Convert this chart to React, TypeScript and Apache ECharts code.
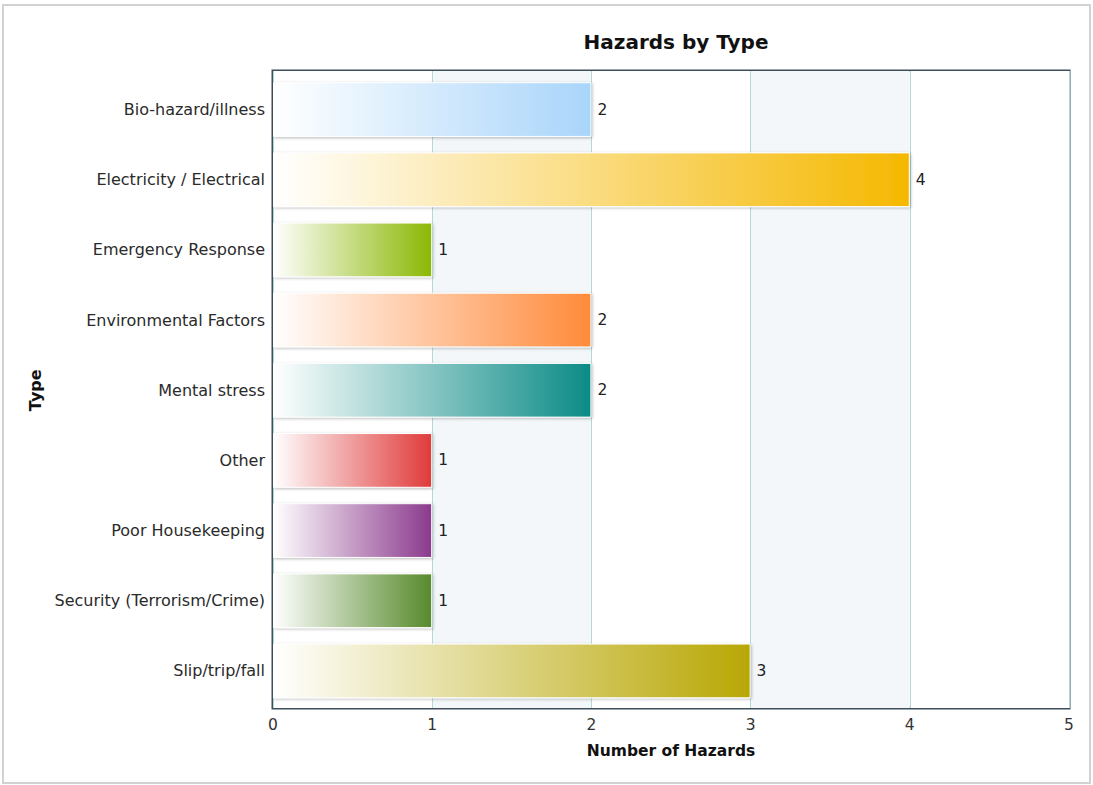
import React, { useEffect, useRef } from "react";
import * as echarts from "echarts";

// Hazard categories, top to bottom
const categories: string[] = [
  "Bio-hazard/illness",
  "Electricity / Electrical",
  "Emergency Response",
  "Environmental Factors",
  "Mental stress",
  "Other",
  "Poor Housekeeping",
  "Security (Terrorism/Crime)",
  "Slip/trip/fall",
];

// Number of hazards recorded per category
const hazardCounts: number[] = [2, 4, 1, 2, 2, 1, 1, 1, 3];

// Solid end colour of each bar's gradient
const barColors: string[] = [
  "#a9d5fa",
  "#f5b800",
  "#8bb804",
  "#ff8a3a",
  "#0b8b86",
  "#e03a3a",
  "#8b3a8d",
  "#578a2c",
  "#b8a704",
];

const xTicks = { min: 0, max: 5, interval: 1 };

const FONT = "DejaVu Sans, Verdana, sans-serif";

export default function App() {
  const ref = useRef<HTMLDivElement>(null);

  useEffect(() => {
    if (!ref.current) return;
    const chart = echarts.init(ref.current, undefined, { renderer: "svg" });

    const data = hazardCounts.map((v, i) => ({
      value: v,
      itemStyle: {
        color: new echarts.graphic.LinearGradient(0, 0, 1, 0, [
          { offset: 0, color: "#ffffff" },
          { offset: 1, color: barColors[i] },
        ]),
      },
    }));

    chart.setOption({
      animation: false,
      backgroundColor: "#ffffff",
      textStyle: { fontFamily: FONT },
      title: {
        text: "Hazards by Type",
        left: 671,
        top: 27,
        textAlign: "center",
        textStyle: {
          fontFamily: FONT,
          fontSize: 20,
          fontWeight: "bold",
          color: "#111111",
        },
      },
      graphic: [
        {
          type: "rect",
          silent: true,
          shape: { x: 3, y: 5, width: 1087, height: 778 },
          style: { fill: "none", stroke: "#d2d2d2", lineWidth: 2 },
        },
      ],
      // grid 0: framed plot area with the value scale; grid 1: the bars, slightly inset vertically
      grid: [
        {
          left: 273,
          top: 71,
          width: 796,
          height: 637,
          show: true,
          borderColor: "#3d4f5b",
          borderWidth: 3,
          backgroundColor: "transparent",
        },
        {
          left: 273,
          top: 74.5,
          width: 796,
          height: 631.5,
          show: false,
        },
      ],
      xAxis: [
        {
          type: "value",
          gridIndex: 0,
          min: xTicks.min,
          max: xTicks.max,
          interval: xTicks.interval,
          name: "Number of Hazards",
          nameLocation: "middle",
          nameGap: 35,
          nameTextStyle: {
            fontFamily: FONT,
            fontSize: 15.5,
            fontWeight: "bold",
            color: "#111111",
          },
          axisLine: { show: false },
          axisTick: { show: false },
          axisLabel: {
            margin: 9,
            fontFamily: FONT,
            fontSize: 15.5,
            color: "#333333",
          },
          splitLine: { show: true, lineStyle: { color: "#b3dad8", width: 1 } },
          splitArea: {
            show: true,
            areaStyle: { color: ["#ffffff", "#f3f7fa"] },
          },
        },
        {
          type: "value",
          gridIndex: 1,
          min: xTicks.min,
          max: xTicks.max,
          interval: xTicks.interval,
          show: false,
          splitLine: { show: false },
        },
      ],
      yAxis: [
        {
          type: "category",
          gridIndex: 0,
          data: categories,
          show: false,
          splitLine: { show: false },
        },
        {
          type: "category",
          gridIndex: 1,
          data: categories,
          inverse: true,
          name: "Type",
          nameLocation: "middle",
          nameRotate: 90,
          nameGap: 229,
          nameTextStyle: {
            fontFamily: FONT,
            fontSize: 16,
            fontWeight: "bold",
            color: "#111111",
          },
          axisLine: { show: false },
          axisTick: { show: false },
          axisLabel: {
            margin: 8,
            fontFamily: FONT,
            fontSize: 16,
            color: "#2a2a2a",
          },
          splitLine: { show: false },
        },
      ],
      series: [
        {
          type: "bar",
          xAxisIndex: 1,
          yAxisIndex: 1,
          data,
          barWidth: "78%",
          itemStyle: {
            borderColor: "#ffffff",
            borderWidth: 1,
            shadowColor: "rgba(0,0,0,0.28)",
            shadowBlur: 3,
            shadowOffsetX: 1,
            shadowOffsetY: 1,
          },
          label: {
            show: true,
            position: "right",
            distance: 6,
            fontFamily: FONT,
            fontSize: 15.5,
            color: "#222222",
          },
        },
      ],
    });

    return () => chart.dispose();
  }, []);

  return (
    <div
      ref={ref}
      style={{ position: "fixed", left: 0, top: 0, width: 1093, height: 785 }}
    />
  );
}
